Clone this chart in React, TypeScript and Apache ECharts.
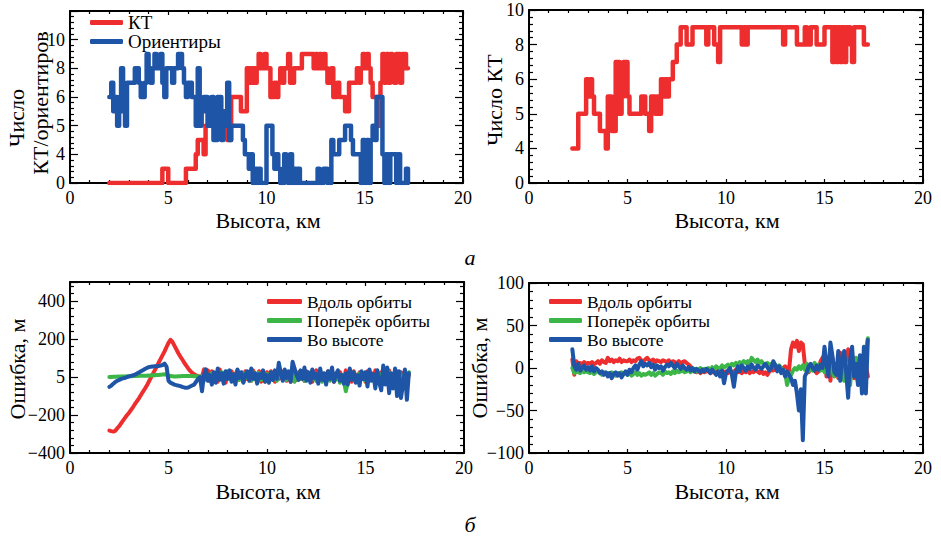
import { useEffect, useRef } from 'react';
import * as echarts from 'echarts';

// ---------- heights (km) ----------
const H_FROM_2_0 = [
  2.0, 2.1, 2.2, 2.3, 2.4, 2.5, 2.6, 2.7, 2.8, 2.9,
  3.0, 3.1, 3.2, 3.3, 3.4, 3.5, 3.6, 3.7, 3.8, 3.9,
  4.0, 4.1, 4.2, 4.3, 4.4, 4.5, 4.6, 4.7, 4.8, 4.9,
  5.0, 5.1, 5.2, 5.3, 5.4, 5.5, 5.6, 5.7, 5.8, 5.9,
  6.0, 6.1, 6.2, 6.3, 6.4, 6.5, 6.6, 6.7, 6.8, 6.9,
  7.0, 7.1, 7.2, 7.3, 7.4, 7.5, 7.6, 7.7, 7.8, 7.9,
  8.0, 8.1, 8.2, 8.3, 8.4, 8.5, 8.6, 8.7, 8.8, 8.9,
  9.0, 9.1, 9.2, 9.3, 9.4, 9.5, 9.6, 9.7, 9.8, 9.9,
  10.0, 10.1, 10.2, 10.3, 10.4, 10.5, 10.6, 10.7, 10.8, 10.9,
  11.0, 11.1, 11.2, 11.3, 11.4, 11.5, 11.6, 11.7, 11.8, 11.9,
  12.0, 12.1, 12.2, 12.3, 12.4, 12.5, 12.6, 12.7, 12.8, 12.9,
  13.0, 13.1, 13.2, 13.3, 13.4, 13.5, 13.6, 13.7, 13.8, 13.9,
  14.0, 14.1, 14.2, 14.3, 14.4, 14.5, 14.6, 14.7, 14.8, 14.9,
  15.0, 15.1, 15.2, 15.3, 15.4, 15.5, 15.6, 15.7, 15.8, 15.9,
  16.0, 16.1, 16.2, 16.3, 16.4, 16.5, 16.6, 16.7, 16.8, 16.9,
  17.0, 17.1, 17.2,
];
const H_FROM_2_2 = H_FROM_2_0.slice(2);

// ---------- panel a, left: number of KT / landmarks (plotted on the panel's tick grid) ----------
const KT_LEFT = [
  0, 0, 0, 0, 0, 0, 0, 0, 0, 0,
  0, 0, 0, 0, 0, 0, 0, 0, 0, 0,
  0, 0, 0, 0, 0, 0, 0, 1, 1, 1,
  0, 0, 0, 0, 0, 0, 0, 0, 0, 1,
  1, 1, 1, 1, 2, 3, 3, 3, 2, 4,
  4, 4, 5, 4, 5, 5, 4, 5, 5, 5,
  3, 3, 6, 6, 6, 6, 6, 5, 5, 5,
  8, 8, 7, 8, 7, 8, 9, 8, 8, 9,
  8, 8, 6, 6, 7, 6, 7, 8, 7, 8,
  8, 9, 7, 7, 8, 8, 8, 8, 9, 9,
  9, 9, 9, 9, 8, 9, 8, 9, 8, 9,
  8, 7, 7, 8, 6, 6, 7, 6, 6, 6,
  5, 5, 7, 7, 7, 7, 8, 7, 8, 9,
  8, 9, 8, 7, 6, 6, 6, 4, 7, 9,
  7, 9, 7, 9, 8, 7, 9, 9, 7, 9,
  9, 8, 8,
];
const LANDMARKS_LEFT = [
  6, 7, 5, 6, 4, 6, 8, 5, 4, 7,
  7, 7, 7, 8, 8, 7, 6, 6, 7, 9,
  8, 7, 8, 9, 8, 8, 9, 7, 6, 8,
  8, 8, 7, 8, 8, 9, 9, 8, 7, 6,
  7, 7, 6, 6, 4, 8, 4, 5, 6, 6,
  4, 4, 6, 3, 3, 6, 6, 3, 4, 5,
  7, 3, 4, 4, 4, 4, 4, 4, 3, 2,
  2, 1, 2, 0, 1, 0, 1, 0, 0, 0,
  4, 4, 4, 2, 1, 2, 1, 0, 0, 2,
  1, 0, 2, 0, 1, 0, 1, 0, 0, 0,
  0, 0, 0, 0, 0, 0, 1, 0, 0, 1,
  1, 0, 0, 3, 2, 2, 2, 3, 3, 3,
  4, 4, 4, 3, 2, 2, 2, 2, 0, 3,
  0, 3, 0, 3, 4, 3, 6, 6, 6, 2,
  0, 2, 0, 2, 2, 2, 0, 2, 0, 0,
  0, 1, 0,
];
const A_LEFT_TICKS = [0, 2, 4, 6, 8, 10];
const A_LEFT_TICK_LABELS = ['0', '4', '5', '6', '8', '10'];

// ---------- panel a, right: number of KT ----------
const KT_RIGHT = [
  2, 2, 2, 4, 4, 4, 4, 6,
  5, 6, 5, 4, 4, 4, 3, 3, 3, 2,
  5, 5, 3, 3, 7, 7, 4, 5, 7, 7,
  5, 4, 4, 4, 4, 4, 4, 5, 5, 4,
  4, 3, 5, 5, 4, 5, 4, 6, 5, 6,
  5, 6, 6, 7, 7, 8, 8, 9, 9, 9,
  8, 8, 8, 9, 9, 9, 9, 9, 9, 9,
  8, 9, 9, 9, 8, 8, 7, 9, 9, 9,
  9, 9, 9, 9, 9, 9, 9, 9, 8, 9,
  8, 9, 9, 9, 9, 9, 9, 9, 9, 9,
  9, 9, 9, 9, 9, 9, 9, 9, 9, 8,
  9, 9, 9, 9, 9, 9, 8, 8, 8, 8,
  9, 8, 8, 9, 9, 9, 8, 8, 8, 8,
  9, 9, 9, 9, 7, 9, 7, 9, 7, 9,
  7, 9, 9, 8, 7, 9, 9, 9, 9, 9,
  8, 8, 8,
];
const A_RIGHT_TICKS = [0, 2, 4, 6, 8, 10];
const A_RIGHT_TICK_LABELS = ['0', '4', '5', '6', '8', '10'];

// ---------- panel б, left: errors, m ----------
const ALONG_LEFT = [
  -282, -285, -287, -283, -270, -258, -243, -228, -214, -200,
  -188, -173, -158, -142, -127, -112, -95, -78, -62, -45,
  -25, -5, 15, 35, 55, 75, 95, 115, 135, 158,
  180, 196, 185, 165, 145, 125, 108, 92, 75, 60,
  45, 32, 22, 14, 8, 4, 2, 0, 40, -10,
  35, -20, 30, -15, 5, -25, 40, -10, 20, -30,
  25, -5, 30, -20, 15, 35, -15, 10, -25, 30,
  -10, 25, -20, 35, 5, -15, 30, -25, 15, -5,
  25, -20, 30, 10, -25, 20, -10, 35, -15, 25,
  -20, 15, -25, 30, 5, -15, 25, -10, 20, -20,
  30, -5, 20, -25, 15, 35, -10, 25, -20, 10,
  -15, 30, -5, 20, -25, 15, -10, 25, 5, -20,
  35, -10, 20, -25, 30, 5, -20, 25, -10, 15,
  -25, 30, -5, 20, -15, 35, -20, 10, 25, -30,
  20, -10, 35, -25, 15, -5, 30, -20, 25, -15,
  30, -20, 10,
];
const ACROSS_LEFT = [
  0, 0, 1, 1, 2, 2, 3, 3, 3, 4,
  4, 4, 5, 5, 5, 6, 6, 7, 7, 7,
  8, 8, 9, 9, 10, 11, 12, 13, 14, 12,
  8, 5, 4, 3, 3, 4, 4, 5, 5, 5,
  5, 5, 5, 4, 4, 3, 3, 2, -20, 15,
  10, -15, 20, -5, -25, 15, -10, 25, -20, 5,
  30, -10, 15, -20, 5, 25, -15, 10, -25, 20,
  -5, 15, -20, 25, -10, 5, 20, -15, 10, -25,
  15, -5, 25, -15, 10, -20, 30, 5, -10, 20,
  -15, 25, -5, 15, -25, 10, 20, -10, 5, -20,
  20, -15, 10, 25, -5, -20, 15, 5, -25, 10,
  -10, 20, -20, 5, 15, -15, 25, -30, 10, -20,
  -75, -30, 10, 25, -15, 5, -20, 20, -10, 15,
  -20, 10, 25, -15, 5, -25, 20, -10, 15, -20,
  10, -15, 25, -5, -20, 15, -10, 20, -25, 5,
  20, -15, 25,
];
const HEIGHT_ERR_LEFT = [
  -52, -45, -35, -26, -20, -15, -10, -7, -4, 0,
  3, 6, 9, 13, 18, 24, 30, 36, 42, 47,
  52, 54, 55, 56, 57, 58, 60, 63, 70, 55,
  -20, -30, -35, -40, -43, -45, -48, -52, -55, -57,
  -55, -50, -45, -40, -25, -10, 0, -75, 10, 40,
  -20, 10, -40, 25, -30, 45, -15, 20, -35, 30,
  -10, 35, -25, 15, -40, 40, -5, 25, -30, 10,
  30, -20, 45, -10, 20, -35, 15, -5, 35, -25,
  10, -30, 25, -15, 35, -10, 75, 20, -20, 40,
  -5, 30, -25, 80, 45, 10, -15, 35, -10, 50,
  -20, 25, -30, 40, -5, 15, -35, 45, -15, 20,
  -40, 30, -10, 50, -25, 15, 35, -20, 10, -35,
  20, -40, 45, -15, 25, -30, 10, -45, 30, -10,
  25, -50, 40, -20, 15, -60, 35, -30, -70, 60,
  -40, 50, -85, 20, -60, 45, -100, 30, -110, -40,
  40, -120, 20,
];
const B_LEFT_TICKS = [-400, -200, 0, 200, 400];
const B_LEFT_TICK_LABELS = ['\u2212400', '\u2212200', '5', '200', '400'];

// ---------- panel б, right: errors, m ----------
const ALONG_RIGHT = [
  10, -8, 8, 5, 6, 4, 7, 5,
  6, 5, 7, 4, 6, 8, 5, 9, 7, 6,
  12, 8, 10, 7, 9, 8, 11, 7, 9, 8,
  8, 10, 7, 9, 8, 11, 12, 9, 8, 10,
  12, 9, 8, 10, 7, 9, 8, 7, 9, 8,
  7, 9, 6, 8, 7, 5, 8, 6, 7, 8,
  6, 4, 2, -2, -4, -5, -3, -6, -4, -5,
  -4, -3, -6, -5, -2, -5, -4, -6, -3, -5,
  -4, -6, -3, -5, -4, -2, -5, -3, -6, -4,
  -5, -3, -6, -4, -5, -2, -4, -6, -3, -7,
  -5, -8, -4, -2, -3, 0, -2, 1, -1, 0,
  2, 0, -3, 22, 30, 25, 32, 20, 30, 28,
  5, -2, -5, 0, 2, -3, -6, -4, 8, 12,
  15, -10, 10, -15, 12, -8, 5, -12, 18, -5,
  10, -15, 22, -8, 15, -12, 5, -18, 10, -5,
  -15, 5, -10,
];
const ACROSS_RIGHT = [
  0, -6, -4, -5, -6, -3, -5, -4,
  -5, -6, -4, -7, -5, -3, -6, -8, -5, -7,
  -6, -8, -5, -7, -9, -6, -8, -5, -7, -6,
  -8, -6, -9, -7, -5, -8, -6, -9, -7, -8,
  -7, -5, -8, -6, -9, -7, -5, -6, -8, -4,
  -6, -5, -7, -4, -6, -3, -5, -4, -3, -5,
  -4, -2, -5, -3, -1, -4, -2, 0, -3, -1,
  -2, 0, -3, 1, -2, 2, 0, -1, 3, 1,
  2, 4, 1, 5, 3, 6, 4, 7, 5, 8,
  6, 8, 5, 12, 9, 7, 10, 6, 8, 5,
  4, 6, 3, 5, 2, 4, 1, 3, 0, -2,
  -5, -20, -12, -8, -3, 0, -2, 2, -1, 3,
  -2, 5, -4, 2, -3, 6, -1, 4, -3, 0,
  -5, 3, -8, 5, -3, -10, 4, -6, 8, -4,
  -15, 6, -10, -20, 5, -8, 12, -5, 8, -3,
  10, 20, 35,
];
const HEIGHT_ERR_RIGHT = [
  22, 2, -2, 5, -3, 0, 3, -2,
  1, -3, 2, -4, 0, -2, -6, -4, -8, -5,
  -10, -6, -12, -7, -5, -9, -6, -11, -7, -4,
  -8, -2, -5, 0, 3, -2, 4, 8, 2, 5,
  3, 6, 1, 4, -2, 3, 0, 2, -3, 1,
  4, 2, 6, 3, 0, 5, 2, -1, 3, 0,
  -2, 1, -3, 0, -4, -1, -3, -5, -2, -4,
  -1, -3, -6, -2, -5, -8, -4, -10, -3, -18,
  -6, -3, 0, -8, -22, -5, 2, -4, 3, 0,
  -3, 2, -1, 4, 0, -2, 3, 1, -1, 2,
  5, 1, -3, 0, 8, 3, -4, 2, -6, -2,
  -10, -4, -8, -12, -20, -15, -30, -50, -25, -85,
  -10, -5, 2, 5, 0, -3, 3, -2, 4, 0,
  25, 5, -10, 30, 15, -5, -8, 20, -15, 10,
  20, -5, -35, 10, 25, -10, 5, -20, 15, -30,
  25, -30, 33,
];
const B_RIGHT_TICKS = [-100, -50, 0, 50, 100];
const B_RIGHT_TICK_LABELS = ['\u2212100', '\u221250', '0', '50', '100'];

const X_TICKS = [0, 5, 10, 15, 20];

const FONT = 'Liberation Serif';
const RED = '#ee2e2e';
const BLUE = '#1f55a6';
const GREEN = '#3db648';

function pairs(xs: number[], ys: number[]) {
  return ys.map((y, i) => [xs[i], y]);
}

function labelFormatter(ticks: number[], labels: string[]) {
  return (v: number) => {
    const i = ticks.findIndex((t) => Math.abs(t - v) < 1e-9);
    return i >= 0 ? labels[i] : '';
  };
}

const axisLineStyle = { color: '#000', width: 2 };

function xAxes(gi: number) {
  const base = {
    type: 'value' as const,
    gridIndex: gi,
    min: 0,
    max: 20,
    interval: 5,
    splitLine: { show: false },
    axisLine: { show: true, onZero: false, lineStyle: axisLineStyle },
    axisTick: { show: true, inside: true, length: 4, lineStyle: { color: '#000', width: 1.2 } },
    minorTick: { show: true, splitNumber: 5, length: 3, lineStyle: { color: '#000', width: 1.2 } },
  };
  return [
    {
      ...base,
      position: 'bottom',
      axisLabel: {
        show: true,
        margin: 6,
        color: '#000',
        fontFamily: FONT,
        fontSize: 18,
        formatter: (v: number) => (X_TICKS.includes(v) ? String(v) : ''),
      },
    },
    { ...base, position: 'top', axisLabel: { show: false } },
  ];
}

function yAxes(gi: number, min: number, max: number, interval: number, ticks: number[], labels: string[]) {
  const base = {
    type: 'value' as const,
    gridIndex: gi,
    min,
    max,
    interval,
    splitLine: { show: false },
    axisLine: { show: true, onZero: false, lineStyle: axisLineStyle },
    axisTick: { show: true, inside: true, length: 8, lineStyle: { color: '#000', width: 1.2 } },
    minorTick: { show: true, splitNumber: 5, length: 4, lineStyle: { color: '#000', width: 1.2 } },
  };
  return [
    {
      ...base,
      position: 'left',
      axisLabel: {
        show: true,
        margin: 5,
        color: '#000',
        fontFamily: FONT,
        fontSize: 18,
        formatter: labelFormatter(ticks, labels),
      },
    },
    { ...base, position: 'right', axisLabel: { show: false } },
  ];
}

function lineSeries(name: string, gi: number, xs: number[], ys: number[], color: string, step: boolean, width: number) {
  return {
    type: 'line' as const,
    name,
    xAxisIndex: gi * 2,
    yAxisIndex: gi * 2,
    data: pairs(xs, ys),
    step: step ? 'end' : false,
    showSymbol: false,
    symbol: 'none',
    lineStyle: { color, width, cap: 'round', join: 'round' },
    itemStyle: { color },
  };
}

function textEl(text: string, x: number, y: number, size: number, rotate: boolean, italic = false) {
  return {
    type: 'text',
    x,
    y,
    rotation: rotate ? Math.PI / 2 : 0,
    style: {
      text,
      fill: '#000',
      font: `${italic ? 'italic ' : ''}${size}px "${FONT}"`,
      align: 'center',
      verticalAlign: 'middle',
    },
  };
}

function legend(left: number, top: number, names: string[], itemWidth: number, fontSize: number, lineHeight: number) {
  return {
    show: true,
    orient: 'vertical',
    left,
    top,
    padding: 0,
    itemGap: 0,
    itemWidth,
    itemHeight: 5,
    icon: 'roundRect',
    data: names,
    selectedMode: false,
    textStyle: { color: '#000', fontFamily: FONT, fontSize, lineHeight, padding: 0 },
  };
}

export default function App() {
  const ref = useRef<HTMLDivElement>(null);

  useEffect(() => {
    if (!ref.current) return;
    const chart = echarts.init(ref.current, null, { renderer: 'svg' });
    const option: any = {
      animation: false,
      backgroundColor: '#fff',
      grid: [
        { left: 70, top: 11, width: 393, height: 172 },
        { left: 529, top: 10, width: 394, height: 173 },
        { left: 70, top: 282, width: 394, height: 171 },
        { left: 529, top: 283, width: 394, height: 170 },
      ],
      xAxis: [...xAxes(0), ...xAxes(1), ...xAxes(2), ...xAxes(3)],
      yAxis: [
        ...yAxes(0, 0, 12, 2, A_LEFT_TICKS, A_LEFT_TICK_LABELS),
        ...yAxes(1, 0, 10, 2, A_RIGHT_TICKS, A_RIGHT_TICK_LABELS),
        ...yAxes(2, -400, 500, 200, B_LEFT_TICKS, B_LEFT_TICK_LABELS),
        ...yAxes(3, -100, 100, 50, B_RIGHT_TICKS, B_RIGHT_TICK_LABELS),
      ],
      legend: [
        legend(90, 13, ['КТ', 'Ориентиры'], 33, 19, 19),
        legend(267, 292, ['Вдоль орбиты', 'Поперёк орбиты', 'Во высоте'], 35, 17.5, 19),
        legend(549, 292, ['Вдоль орбиты', 'Поперёк орбиты', 'Во высоте'], 33, 17.5, 19),
      ],
      series: [
        lineSeries('КТ', 0, H_FROM_2_0, KT_LEFT, RED, true, 4.5),
        lineSeries('Ориентиры', 0, H_FROM_2_0, LANDMARKS_LEFT, BLUE, true, 4.5),
        lineSeries('КТ', 1, H_FROM_2_2, KT_RIGHT, RED, true, 4.5),
        lineSeries('Вдоль орбиты', 2, H_FROM_2_0, ALONG_LEFT, RED, false, 4),
        lineSeries('Поперёк орбиты', 2, H_FROM_2_0, ACROSS_LEFT, GREEN, false, 4),
        lineSeries('Во высоте', 2, H_FROM_2_0, HEIGHT_ERR_LEFT, BLUE, false, 4),
        lineSeries('Вдоль орбиты', 3, H_FROM_2_2, ALONG_RIGHT, RED, false, 4),
        lineSeries('Поперёк орбиты', 3, H_FROM_2_2, ACROSS_RIGHT, GREEN, false, 4),
        lineSeries('Во высоте', 3, H_FROM_2_2, HEIGHT_ERR_RIGHT, BLUE, false, 4),
      ],
      graphic: [
        textEl('Число', 16, 118, 22, true),
        textEl('КТ/ориентиров', 40, 103, 22, true),
        textEl('Высота, км', 268, 220, 22, false),
        textEl('Число КТ', 494, 100, 22, true),
        textEl('Высота, км', 727, 220, 22, false),
        textEl('а', 470, 257, 22, false, true),
        textEl('Ошибка, м', 17, 369, 22, true),
        textEl('Высота, км', 268, 491, 22, false),
        textEl('Ошибка, м', 479, 368, 22, true),
        textEl('Высота, км', 727, 491, 22, false),
        textEl('б', 470, 524, 22, false, true),
      ],
    };
    chart.setOption(option);
    return () => chart.dispose();
  }, []);

  return (
    <div
      ref={ref}
      style={{ position: 'fixed', left: 0, top: 0, width: 941, height: 536, background: '#fff' }}
    />
  );
}
